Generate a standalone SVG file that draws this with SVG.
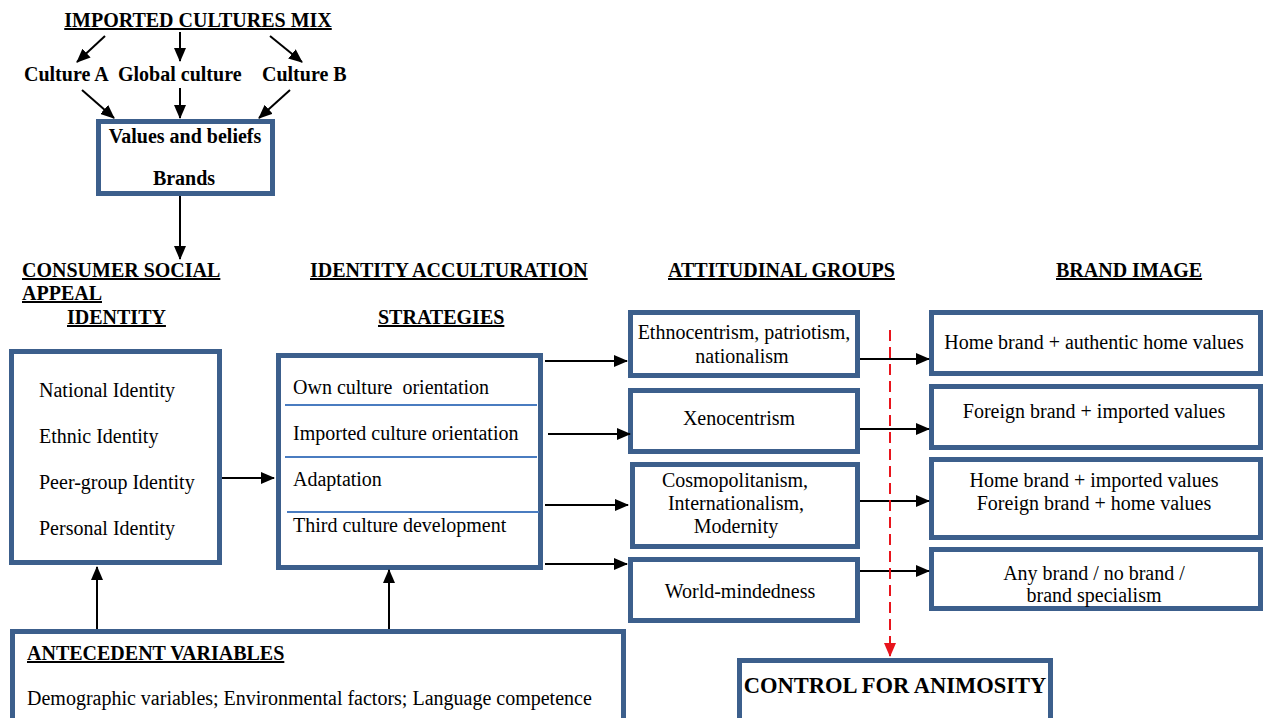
<svg xmlns="http://www.w3.org/2000/svg" width="1264" height="718" viewBox="0 0 1264 718">
<style>
.t{font-family:"Liberation Serif","Times New Roman",serif;font-size:20px;fill:#000}
.b{font-weight:bold}
.u{text-decoration:underline}
.m{text-anchor:middle}
.box{fill:#fff;stroke:#3c5f8c;stroke-width:5}
.sep{stroke:#4a7cc0;stroke-width:2}
.c{stroke:#000;stroke-width:2;fill:none}
</style>
<defs>
<marker id="ah" viewBox="0 0 14 12" refX="13" refY="6" markerWidth="14" markerHeight="12" markerUnits="userSpaceOnUse" orient="auto">
<path d="M0,0 L14,6 L0,12 z" fill="#000"/>
</marker>
<marker id="ahr" viewBox="0 0 14 12" refX="13" refY="6" markerWidth="14" markerHeight="12" markerUnits="userSpaceOnUse" orient="auto">
<path d="M0,0 L14,6 L0,12 z" fill="#e8141c"/>
</marker>
</defs>

<g id="title">
<text class="t b u m" x="198" y="27">IMPORTED CULTURES MIX</text>
</g>
<g id="cultureA"><text class="t b" x="24" y="81">Culture A</text></g>
<g id="globalCulture"><text class="t b" x="118" y="81">Global culture</text></g>
<g id="cultureB"><text class="t b" x="262" y="81">Culture B</text></g>

<g id="values">
<rect class="box" x="98.5" y="121.5" width="174" height="72"/>
<text class="t b m" x="185" y="143">Values and beliefs</text>
<text class="t b m" x="184" y="185">Brands</text>
</g>

<g id="headings">
<text class="t b u" x="22" y="277">CONSUMER SOCIAL</text>
<text class="t b u" x="22" y="300">APPEAL</text>
<text class="t b u" x="67" y="324">IDENTITY</text>
<text class="t b u" x="310" y="277">IDENTITY ACCULTURATION</text>
<text class="t b u" x="378" y="324">STRATEGIES</text>
<text class="t b u" x="668" y="277">ATTITUDINAL GROUPS</text>
<text class="t b u" x="1056" y="277">BRAND IMAGE</text>
</g>

<g id="identity">
<rect class="box" x="11.5" y="351.5" width="208" height="211"/>
<text class="t" x="39" y="397">National Identity</text>
<text class="t" x="39" y="443">Ethnic Identity</text>
<text class="t" x="39" y="489">Peer-group Identity</text>
<text class="t" x="39" y="535">Personal Identity</text>
</g>

<g id="strategies">
<rect class="box" x="278.5" y="355.5" width="262" height="212"/>
<line class="sep" x1="285" y1="405" x2="537" y2="405"/>
<line class="sep" x1="285" y1="457" x2="537" y2="457"/>
<line class="sep" x1="287" y1="512" x2="539" y2="512"/>
<text class="t" x="293" y="394" xml:space="preserve">Own culture  orientation</text>
<text class="t" x="293" y="440">Imported culture orientation</text>
<text class="t" x="293" y="486">Adaptation</text>
<text class="t" x="293" y="532">Third culture development</text>
</g>

<g id="ethno">
<rect class="box" x="630.5" y="312.5" width="227" height="63"/>
<text class="t m" x="744" y="339">Ethnocentrism, patriotism,</text>
<text class="t m" x="742" y="363">nationalism</text>
</g>
<g id="xeno">
<rect class="box" x="630.5" y="390.5" width="227" height="61"/>
<text class="t m" x="739" y="425">Xenocentrism</text>
</g>
<g id="cosmo">
<rect class="box" x="632.5" y="464.5" width="225" height="82"/>
<text class="t m" x="735" y="487">Cosmopolitanism,</text>
<text class="t m" x="736" y="510">Internationalism,</text>
<text class="t m" x="736" y="533">Modernity</text>
</g>
<g id="world">
<rect class="box" x="630.5" y="559.5" width="227" height="61"/>
<text class="t m" x="740" y="598">World-mindedness</text>
</g>

<g id="brand1">
<rect class="box" x="931.5" y="312.5" width="329" height="61"/>
<text class="t m" x="1094" y="349">Home brand + authentic home values</text>
</g>
<g id="brand2">
<rect class="box" x="931.5" y="386.5" width="329" height="61"/>
<text class="t m" x="1094" y="418">Foreign brand + imported values</text>
</g>
<g id="brand3">
<rect class="box" x="931.5" y="459.5" width="329" height="78"/>
<text class="t m" x="1094" y="487">Home brand + imported values</text>
<text class="t m" x="1094" y="510">Foreign brand + home values</text>
</g>
<g id="brand4">
<rect class="box" x="931.5" y="549.5" width="329" height="59"/>
<text class="t m" x="1094" y="580">Any brand / no brand /</text>
<text class="t m" x="1094" y="602">brand specialism</text>
</g>

<g id="antecedent">
<rect class="box" x="12.5" y="631.5" width="611" height="100"/>
<text class="t b u" x="27" y="660">ANTECEDENT VARIABLES</text>
<text class="t" x="27" y="705">Demographic variables; Environmental factors; Language competence</text>
</g>

<g id="animosity">
<rect class="box" x="739.5" y="660.5" width="311" height="70"/>
<text class="t b m" x="895" y="693" style="font-size:22.5px">CONTROL FOR ANIMOSITY</text>
</g>

<g id="connectors">
<line class="c" x1="105" y1="36" x2="77" y2="62" marker-end="url(#ah)"/>
<line class="c" x1="180" y1="32" x2="180" y2="61" marker-end="url(#ah)"/>
<line class="c" x1="270" y1="36" x2="302" y2="62" marker-end="url(#ah)"/>
<line class="c" x1="82" y1="90" x2="114" y2="118" marker-end="url(#ah)"/>
<line class="c" x1="180" y1="88" x2="180" y2="118" marker-end="url(#ah)"/>
<line class="c" x1="290" y1="90" x2="259" y2="118" marker-end="url(#ah)"/>
<line class="c" x1="180" y1="196" x2="180" y2="259" marker-end="url(#ah)"/>
<line class="c" x1="222" y1="478" x2="274" y2="478" marker-end="url(#ah)"/>
<line class="c" x1="545" y1="361" x2="627" y2="361" marker-end="url(#ah)"/>
<line class="c" x1="548" y1="434" x2="630" y2="434" marker-end="url(#ah)"/>
<line class="c" x1="545" y1="505" x2="628" y2="505" marker-end="url(#ah)"/>
<line class="c" x1="545" y1="564" x2="627" y2="564" marker-end="url(#ah)"/>
<line class="c" x1="860" y1="359" x2="929" y2="359" marker-end="url(#ah)"/>
<line class="c" x1="860" y1="429" x2="929" y2="429" marker-end="url(#ah)"/>
<line class="c" x1="860" y1="501" x2="929" y2="501" marker-end="url(#ah)"/>
<line class="c" x1="860" y1="571" x2="929" y2="571" marker-end="url(#ah)"/>
<line class="c" x1="97" y1="629" x2="97" y2="567" marker-end="url(#ah)"/>
<line class="c" x1="389" y1="629" x2="389" y2="570" marker-end="url(#ah)"/>
<line x1="890" y1="330" x2="890" y2="656" stroke="#e8141c" stroke-width="2" stroke-dasharray="11,6" marker-end="url(#ahr)"/>
</g>
</svg>
